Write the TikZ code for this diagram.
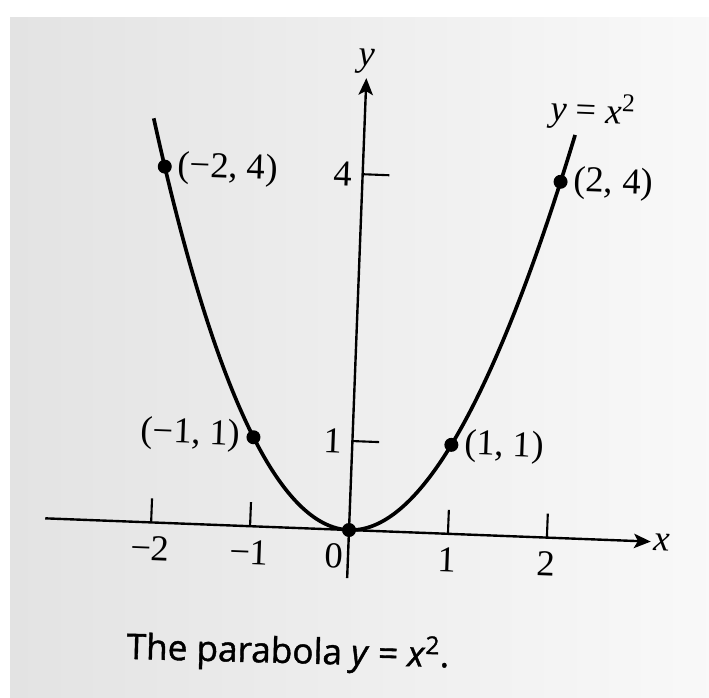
\documentclass[tikz,border=0pt]{standalone}
\usepackage{fontspec}
\setmainfont{Liberation Serif}
\newfontfamily\capfont[FakeBold=1.2]{Open Sans}
\usetikzlibrary{arrows.meta}
\tikzset{
    axis line/.style={line width=1.7pt,black,-{Stealth[length=0.42cm,width=0.36cm,inset=0.1cm]}},
    tick line/.style={line width=1.5pt,black},
    curve line/.style={line width=2.6pt,black},
    lbl/.style={font=\fontsize{26}{30}\selectfont,inner sep=2pt},
    label distance=2pt
}

\begin{document}
\begin{tikzpicture}[x=0.025cm,y=-0.025cm,
  dot/.style={circle,inner sep=0pt,minimum size=0.35cm,fill,name=#1}]
\useasboundingbox (0,0) rectangle (709,697);
\shade[left color=gray!22,right color=gray!5] (10,17) rectangle (709,697);

\begin{scope}[shift={(349,530)},rotate=-2.2,x=2.475cm,y=2.225cm,transform shape]
    % axes
    \coordinate (xmin) at (-3.07,0);
    \coordinate (xmax) at (3.05,0);
    \coordinate (ymin) at (0,-0.54);
    \coordinate (ymax) at (0,5.08);
\draw[axis line] (xmin)--(xmax);
\draw[axis line] (ymin)--(ymax);
    \node[lbl,anchor=west] (xlabel) at (xmax) {\textit{x}};
    \node[lbl,anchor=south] (ylabel) at (0,5.1) {\textit{y}};

    % ticks
\foreach \t/\s in {-2/−2,-1/−1,1/1,2/2}{
    \coordinate (xt\t) at (\t,0);
    \draw[tick line] (xt\t) -- ++(0,0.27);
    \node[lbl,anchor=north] (xn\t) at (\t,-0.12) {\s};
}
\foreach \t in {1,4}{
    \coordinate (yt\t) at (0,\t);
    \draw[tick line] (yt\t) -- ++(0.27,0);
    \node[lbl,anchor=east] (yn\t) at (-0.07,\t) {\t};
}
    \node[lbl,anchor=north] (xn0) at (-0.14,-0.12) {0};

\draw[curve line] plot[domain=-2.13:2.13,samples=80,smooth] (\x,{\x*\x});
    \node[lbl] (eqlabel) at (2.3,4.8) {\textit{y} = \textit{x}\textsuperscript{2}};

    % points on the parabola
    \node[dot=pa,label={[lbl]right:(−2, 4)}] at (-2,4) {};
    \node[dot=pb,label={[lbl]left:(−1, 1)}] at (-1,1) {};
    \node[dot=pc] at (0,0) {};
    \node[dot=pd,label={[lbl]right:(1, 1)}] at (1,1) {};
    \node[dot=pe,label={[lbl]right:(2, 4)}] at (2,4) {};
\end{scope}

\node[font=\capfont\fontsize{25}{29}\selectfont,rotate=-1.5] (caption) at (288,652)
    {The parabola \textit{y} = \textit{x}\textsuperscript{2}.};
\end{tikzpicture}
\end{document}
